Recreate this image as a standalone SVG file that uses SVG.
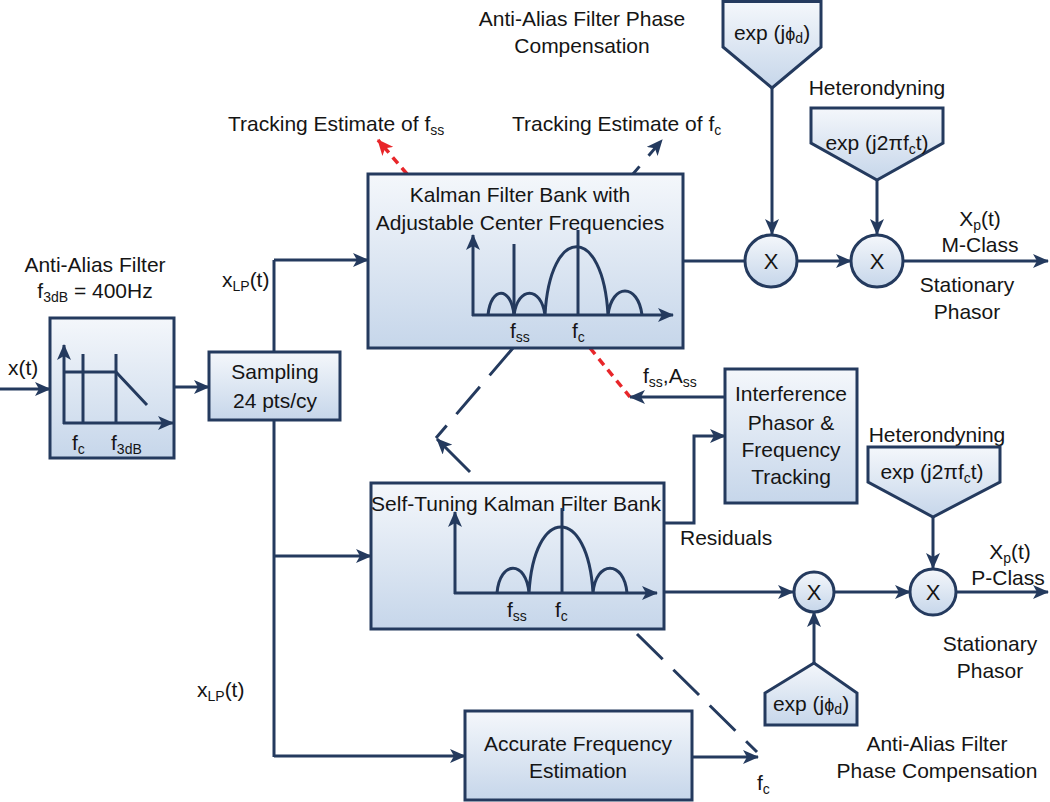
<svg xmlns="http://www.w3.org/2000/svg" width="1050" height="802" viewBox="0 0 1050 802">
<defs>
<linearGradient id="g" x1="0" y1="0" x2="0" y2="1">
<stop offset="0" stop-color="#f4f7fb"/>
<stop offset="1" stop-color="#c6d6ea"/>
</linearGradient>
<marker id="ah" markerUnits="userSpaceOnUse" markerWidth="16" markerHeight="14" viewBox="0 0 16 14" refX="15" refY="7" orient="auto">
<path d="M0,0 L16,7 L0,14 L4,7 z" fill="#243a5e"/>
</marker>
<marker id="ahr" markerUnits="userSpaceOnUse" markerWidth="16" markerHeight="14" viewBox="0 0 16 14" refX="15" refY="7" orient="auto">
<path d="M0,0 L16,7 L0,14 L4,7 z" fill="#e8262a"/>
</marker>
<style>
.box{fill:url(#g);stroke:#243a5e;stroke-width:3}
.ln{fill:none;stroke:#243a5e;stroke-width:3}
.arr{marker-end:url(#ah)}
.dash{stroke-dasharray:36 15}
.red{fill:none;stroke:#e8262a;stroke-width:3.5;stroke-dasharray:8 6;marker-end:url(#ahr)}
text{font-family:"Liberation Sans",Arial,sans-serif;font-size:21px;fill:#151515}
.c{text-anchor:middle}
.s{font-size:14px}
.x{font-size:22px}
</style>
</defs>

<g id="connectors">
<line class="ln arr" x1="0" y1="389" x2="50" y2="389"/>
<line class="ln arr" x1="174" y1="387" x2="209" y2="387"/>
<line class="ln" x1="274" y1="260" x2="274" y2="352"/>
<line class="ln" x1="274" y1="420" x2="274" y2="757"/>
<polyline class="ln arr" points="274,260 368,260"/>
<line class="ln arr" x1="274" y1="556" x2="371" y2="556"/>
<line class="ln arr" x1="274" y1="756" x2="465" y2="756"/>
<line class="ln" x1="683" y1="261" x2="745" y2="261"/>
<line class="ln arr" x1="797" y1="261" x2="851" y2="261"/>
<line class="ln arr" x1="903" y1="261" x2="1048" y2="261"/>
<line class="ln arr" x1="772" y1="88" x2="772" y2="234"/>
<line class="ln arr" x1="877" y1="180" x2="877" y2="234"/>
<line class="red" x1="407" y1="174" x2="378" y2="140"/>
<line class="ln arr" x1="633" y1="174" x2="662" y2="140" style="stroke-dasharray:10 14"/>
<line class="ln dash" x1="513" y1="348" x2="436" y2="438"/>
<line class="ln arr" x1="470" y1="472" x2="437" y2="439"/>
<line class="red" x1="590" y1="348" x2="630" y2="397" style="marker-end:none"/>
<line class="ln arr" x1="725" y1="397" x2="630" y2="397"/>
<polyline class="ln arr" points="664,523 694,523 694,436 725,436"/>
<line class="ln arr" x1="664" y1="592" x2="793" y2="592"/>
<line class="ln arr" x1="834" y1="592" x2="910" y2="592"/>
<line class="ln arr" x1="956" y1="592" x2="1048" y2="592"/>
<line class="ln arr" x1="814" y1="663" x2="814" y2="612"/>
<line class="ln arr" x1="933" y1="517" x2="933" y2="568"/>
<line class="ln arr" x1="692" y1="757" x2="758" y2="757"/>
<line class="ln dash" x1="637" y1="634" x2="757" y2="752"/>
</g>

<g id="labels">
<text x="8" y="375">x(t)</text>
<text class="c" x="95" y="272">Anti-Alias Filter</text>
<text class="c" x="95" y="298">f<tspan class="s" dy="4">3dB</tspan><tspan dy="-4"> = 400Hz</tspan></text>
<text x="222" y="287">x<tspan class="s" dy="4">LP</tspan><tspan dy="-4">(t)</tspan></text>
<text x="197" y="697">x<tspan class="s" dy="4">LP</tspan><tspan dy="-4">(t)</tspan></text>
<text x="228" y="131">Tracking Estimate of f<tspan class="s" dy="4">ss</tspan></text>
<text x="512" y="131">Tracking Estimate of f<tspan class="s" dy="4">c</tspan></text>
<text class="c" x="582" y="26">Anti-Alias Filter Phase</text>
<text class="c" x="582" y="53">Compensation</text>
<text class="c" x="877" y="95">Heterondyning</text>
<text class="c" x="980" y="226">X<tspan class="s" dy="4">p</tspan><tspan dy="-4">(t)</tspan></text>
<text class="c" x="980" y="252">M-Class</text>
<text class="c" x="967" y="292">Stationary</text>
<text class="c" x="967" y="319">Phasor</text>
<text x="643" y="383">f<tspan class="s" dy="4">ss</tspan><tspan dy="-4">,A</tspan><tspan class="s" dy="4">ss</tspan></text>
<text x="680" y="545">Residuals</text>
<text class="c" x="937" y="442">Heterondyning</text>
<text class="c" x="1010" y="559">X<tspan class="s" dy="4">p</tspan><tspan dy="-4">(t)</tspan></text>
<text class="c" x="1008" y="585">P-Class</text>
<text class="c" x="990" y="651">Stationary</text>
<text class="c" x="990" y="678">Phasor</text>
<text class="c" x="937" y="751">Anti-Alias Filter</text>
<text class="c" x="937" y="778">Phase Compensation</text>
<text x="757" y="790">f<tspan class="s" dy="4">c</tspan></text>
</g>

<g id="anti-alias-filter">
<rect class="box" x="50" y="318" width="124" height="140"/>
<line class="ln arr" x1="64" y1="424" x2="64" y2="345"/>
<line class="ln arr" x1="63" y1="423" x2="173" y2="423"/>
<line class="ln" x1="83" y1="354" x2="83" y2="423"/>
<line class="ln" x1="116" y1="354" x2="116" y2="423"/>
<polyline class="ln" points="64,372 116,372 147,405"/>
<text x="72" y="450">f<tspan class="s" dy="4">c</tspan></text>
<text x="111" y="450">f<tspan class="s" dy="4">3dB</tspan></text>
</g>

<g id="sampling">
<rect class="box" x="209" y="352" width="131" height="68"/>
<text class="c" x="275" y="379">Sampling</text>
<text class="c" x="275" y="408">24 pts/cy</text>
</g>

<g id="kalman-adjustable">
<rect class="box" x="368" y="174" width="315" height="174"/>
<text class="c" x="520" y="202">Kalman Filter Bank with</text>
<text class="c" x="520" y="230">Adjustable Center Frequencies</text>
<line class="ln arr" x1="473" y1="316" x2="473" y2="235"/>
<line class="ln arr" x1="472" y1="315" x2="673" y2="315"/>
<line class="ln" x1="514" y1="244" x2="514" y2="315"/>
<line class="ln" x1="578" y1="230" x2="578" y2="315"/>
<path class="ln" d="M488,315 C491,286 511,286 514,315 M514,315 C518,286 541,286 545,315 M545,315 C550,224 603,224 608,315 M608,315 C612,283 638,283 642,315"/>
<text x="510" y="338">f<tspan class="s" dy="4">ss</tspan></text>
<text x="572" y="338">f<tspan class="s" dy="4">c</tspan></text>
</g>

<g id="mult-m1">
<circle class="box" cx="771" cy="261" r="26"/>
<text class="c x" x="771" y="269">X</text>
</g>
<g id="mult-m2">
<circle class="box" cx="877" cy="261" r="26"/>
<text class="c x" x="877" y="269">X</text>
</g>

<g id="phase-comp-top">
<polygon class="box" points="723,1.5 821,1.5 821,47 772,88 723,47"/>
<text class="c" x="772" y="40">exp (j<tspan style="font-size:18px">ϕ</tspan><tspan class="s" dy="3">d</tspan><tspan dy="-3">)</tspan></text>
</g>

<g id="heterodyne-top">
<polygon class="box" points="811,108 943,108 943,143 877,180 811,143"/>
<text class="c" x="877" y="150">exp (j2πf<tspan class="s" dy="4">c</tspan><tspan dy="-4">t)</tspan></text>
</g>

<g id="interference-tracking">
<rect class="box" x="725" y="369" width="132" height="134"/>
<text class="c" x="791" y="401">Interference</text>
<text class="c" x="791" y="430">Phasor &amp;</text>
<text class="c" x="791" y="457">Frequency</text>
<text class="c" x="791" y="484">Tracking</text>
</g>

<g id="self-tuning">
<rect class="box" x="371" y="483" width="293" height="146"/>
<text class="c" x="516" y="511">Self-Tuning Kalman Filter Bank</text>
<line class="ln arr" x1="455" y1="594" x2="455" y2="512"/>
<line class="ln arr" x1="454" y1="593" x2="657" y2="593"/>
<line class="ln" x1="562" y1="508" x2="562" y2="593"/>
<path class="ln" d="M497,593 C500,560 526,560 529,593 M529,593 C534,505 588,505 593,593 M593,593 C596,560 624,560 627,593"/>
<text x="507" y="617">f<tspan class="s" dy="4">ss</tspan></text>
<text x="555" y="617">f<tspan class="s" dy="4">c</tspan></text>
</g>

<g id="mult-p1">
<circle class="box" cx="814" cy="592" r="20"/>
<text class="c x" x="814" y="600">X</text>
</g>
<g id="mult-p2">
<circle class="box" cx="933" cy="592" r="23"/>
<text class="c x" x="933" y="600">X</text>
</g>

<g id="phase-comp-bottom">
<polygon class="box" points="765,725 857,725 857,693 814,663 765,693"/>
<text class="c" x="811" y="711">exp (j<tspan style="font-size:18px">ϕ</tspan><tspan class="s" dy="3">d</tspan><tspan dy="-3">)</tspan></text>
</g>

<g id="heterodyne-bottom">
<polygon class="box" points="868,447 1000,447 1000,482 933,517 868,482"/>
<text class="c" x="932" y="479">exp (j2πf<tspan class="s" dy="4">c</tspan><tspan dy="-4">t)</tspan></text>
</g>

<g id="accurate-freq">
<rect class="box" x="465" y="711" width="227" height="89"/>
<text class="c" x="578" y="751">Accurate Frequency</text>
<text class="c" x="578" y="778">Estimation</text>
</g>
</svg>
